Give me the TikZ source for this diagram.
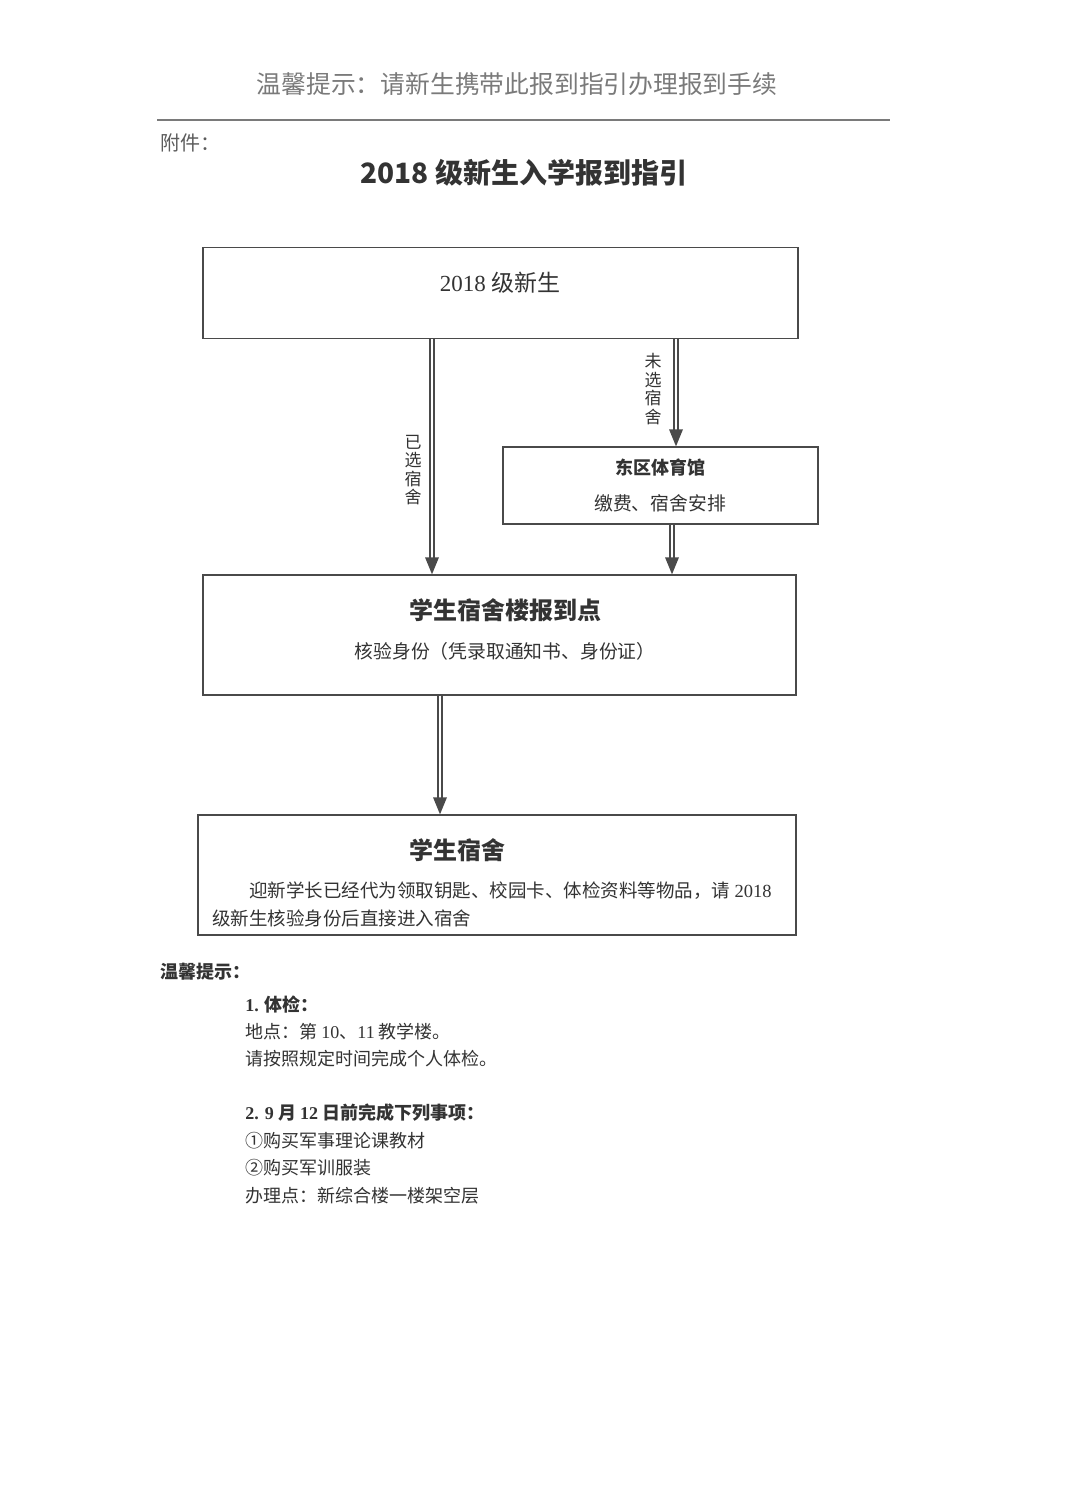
\documentclass[tikz,border=0pt]{standalone}
\usepackage{fontspec}
\setmainfont{Noto Sans CJK SC}
\newfontfamily\lat{Liberation Serif}
\definecolor{linec}{HTML}{4A4A4A}
\definecolor{txt}{HTML}{333333}
\definecolor{hdr}{HTML}{7A7A7A}
\newcommand\dblarrow[2]{%
  \draw[arrline, shorten >=8pt] (#1) -- (#2);
  \fill[linec] (#2) -- ++(-7,-17) -- ++(14,0) -- cycle;}
\begin{document}
\begin{tikzpicture}[x=0.5pt,y=-0.5pt,
  box/.style={draw=linec, line width=0.7pt, minimum width=#1, inner sep=0pt},
  arrline/.style={draw=linec, double=white, double distance=1.4pt, line width=0.6pt},
  vlab/.style={text=txt, align=center, font=\fontsize{8.5pt}{9.3pt}\selectfont, inner sep=0pt},
  btxt/.style={text=txt, inner sep=0pt, font=\fontsize{9.4pt}{10pt}\selectfont},
  btitle/.style={text=txt, inner sep=0pt, font=\fontsize{12pt}{14pt}\selectfont\bfseries},
  note/.style={text=txt, inner sep=0pt, anchor=west, font=\fontsize{9pt}{10pt}\selectfont}]
\useasboundingbox[fill=white] (0,0) rectangle (1080,1485);

% header
\node[text=hdr, inner sep=0pt, font=\fontsize{12.4pt}{14pt}\selectfont] (hint) at (517,84) {温馨提示：请新生携带此报到指引办理报到手续};
\coordinate (r1) at (157,120);
\coordinate (r2) at (890,120);
\draw[draw=hdr, line width=0.6pt] (r1) -- (r2);
\node[text=txt!80, inner sep=0pt, anchor=west, font=\fontsize{10pt}{12pt}\selectfont] (fj) at (160,143) {附件：};
\node[text=txt, inner sep=0pt, font=\fontsize{14pt}{16pt}\selectfont\bfseries] (title) at (524,173) {2018 级新生入学报到指引};

% boxes
\node[box=297.5pt, minimum height=45.5pt] (b1) at (500.5,293) {};
\node[text=txt, inner sep=0pt, font=\fontsize{11.5pt}{13pt}\selectfont] (b1t) at (500,283) {{\lat 2018} 级新生};

\node[box=157.5pt, minimum height=38.5pt] (b2) at (660.5,485.5) {};
\node[btxt, font=\fontsize{9pt}{10pt}\selectfont\bfseries] (b2t) at (660,468) {东区体育馆};
\node[btxt] (b2s) at (660,503) {缴费、宿舍安排};

\node[box=296.5pt, minimum height=60pt] (b3) at (499.5,635) {};
\node[btitle] (b3t) at (505,610) {学生宿舍楼报到点};
\node[btxt] (b3s) at (505,651) {核验身份（凭录取通知书、身份证）};

\node[box=299pt, minimum height=60pt] (b4) at (497,875) {};
\node[btitle] (b4t) at (457,850) {学生宿舍};
\node[text=txt, inner sep=0pt, anchor=west, align=left, font=\fontsize{9.25pt}{14pt}\selectfont] (b4s) at (212,904)
  {\hspace*{2em}迎新学长已经代为领取钥匙、校园卡、体检资料等物品，请 {\lat 2018}\\级新生核验身份后直接进入宿舍};

% arrows
\dblarrow{432,0 |- b1.south}{432,0 |- b3.north}
\dblarrow{676,0 |- b1.south}{676,0 |- b2.north}
\dblarrow{672,0 |- b2.south}{672,0 |- b3.north}
\dblarrow{440,0 |- b3.south}{440,0 |- b4.north}

\node[vlab] (l1) at (413,470) {已\\选\\宿\\舍};
\node[vlab] (l2) at (653,389) {未\\选\\宿\\舍};

% notes
\node[note, font=\fontsize{9pt}{10pt}\selectfont\bfseries] (n0) at (160,972) {温馨提示：};
\node[note, font=\fontsize{9pt}{10pt}\selectfont\bfseries] (n1) at (245,1005) {{\lat\bfseries 1.} 体检：};
\node[note] (n2) at (245,1032) {地点：第 {\lat 10}、{\lat 11} 教学楼。};
\node[note] (n3) at (245,1059) {请按照规定时间完成个人体检。};
\node[note, font=\fontsize{9pt}{10pt}\selectfont\bfseries] (n4) at (245,1113) {{\lat\bfseries 2. 9} 月 {\lat\bfseries 12} 日前完成下列事项：};
\node[note] (n5) at (245,1141) {①购买军事理论课教材};
\node[note] (n6) at (245,1168) {②购买军训服装};
\node[note] (n7) at (245,1196) {办理点：新综合楼一楼架空层};
\end{tikzpicture}
\end{document}
